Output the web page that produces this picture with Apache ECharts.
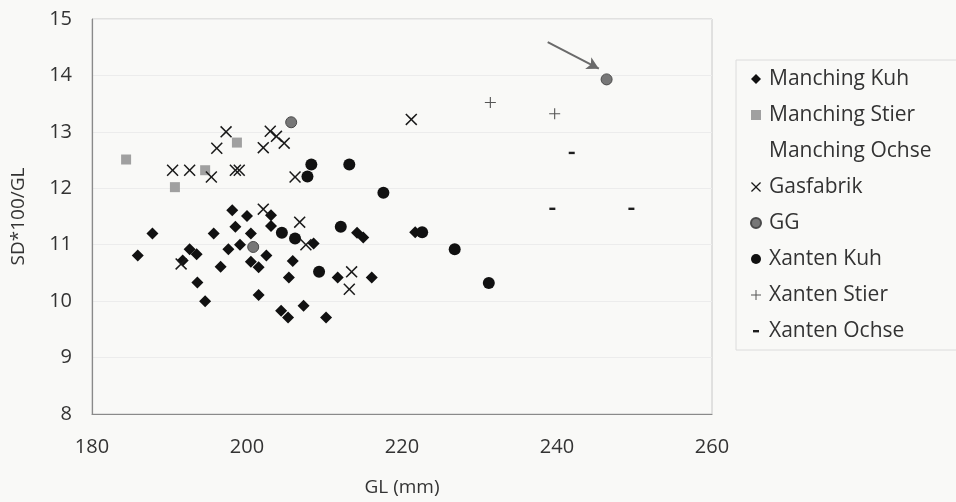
<!DOCTYPE html>
<html><head><meta charset="utf-8">
<script src="https://cdn.jsdelivr.net/npm/echarts@6/dist/echarts.min.js"></script>
<style>html,body{margin:0;padding:0;background:#f9f9f7;}#c{width:956px;height:502px;}</style>
</head><body><div id="c"></div>
<script>
const seriesNames = ['Manching Kuh','Manching Stier','Manching Ochse','Gasfabrik','GG','Xanten Kuh','Xanten Stier','Xanten Ochse'];
const xTicks = [180,200,220,240,260];
const yTicks = [8,9,10,11,12,13,14,15];
const manchingKuh = [[187.8,11.2],[185.9,10.81],[198.1,11.61],[200.0,11.51],[195.7,11.2],[198.5,11.32],[200.5,11.2],[203.1,11.52],[203.1,11.33],[199.1,11.0],[197.6,10.92],[202.5,10.81],[200.5,10.7],[201.5,10.6],[205.9,10.71],[196.6,10.61],[205.4,10.42],[211.7,10.42],[216.1,10.42],[214.2,11.21],[215.0,11.13],[193.6,10.33],[194.6,10.0],[201.5,10.11],[204.4,9.83],[205.3,9.71],[207.3,9.92],[210.2,9.71],[192.6,10.92],[193.5,10.83],[191.7,10.72],[208.6,11.02],[221.7,11.22]];
const manchingStier = [[184.4,12.51],[190.7,12.02],[194.6,12.32],[198.7,12.81]];
const manchingOchse = [];
const gasfabrik = [[190.4,12.32],[192.6,12.32],[195.4,12.2],[196.1,12.71],[197.3,13.0],[198.5,12.32],[199.0,12.32],[202.1,12.72],[203.0,13.01],[203.8,12.92],[204.8,12.8],[206.2,12.2],[202.1,11.63],[206.8,11.4],[207.6,11.0],[213.5,10.52],[213.2,10.21],[221.2,13.22],[191.5,10.66]];
const gg = [[205.7,13.17],[200.8,10.96],[246.4,13.93]];
const xantenKuh = [[208.3,12.42],[207.8,12.21],[213.2,12.42],[217.6,11.92],[212.1,11.32],[204.5,11.21],[206.2,11.11],[209.3,10.52],[222.6,11.22],[226.8,10.92],[231.2,10.32]];
const xantenStier = [[231.4,13.52],[239.7,13.32]];
const xantenOchse = [[241.9,12.63],[239.4,11.64],[249.6,11.64]];
const arrowFrom = [238.8,14.59];
const arrowTo = [245.4,14.12];

const X_PATH = 'path://M0,0.9 L0.9,0 L5,4.1 L9.1,0 L10,0.9 L5.9,5 L10,9.1 L9.1,10 L5,5.9 L0.9,10 L0,9.1 L4.1,5 Z';
const PLUS_PATH = 'path://M4.5,0 H5.5 V4.5 H10 V5.5 H5.5 V10 H4.5 V5.5 H0 V4.5 H4.5 Z';
const DASH_PATH = 'path://M0,0 M2,4 H8 V6.4 H2 Z M10,10';
const FONT = 'Open Sans';
const TXT = '#333333';

const chart = echarts.init(document.getElementById('c'));
chart.setOption({
  backgroundColor: '#f9f9f7',
  animation: false,
  grid: {left: 92, right: 244, top: 19, bottom: 87, show: true, borderColor: '#c8c8c8', borderWidth: 1},
  xAxis: {
    type: 'value', min: xTicks[0], max: xTicks[xTicks.length-1], interval: 20,
    name: 'GL (mm)', nameLocation: 'middle', nameGap: 64,
    nameTextStyle: {fontFamily: FONT, fontSize: 19, color: TXT},
    axisLine: {lineStyle: {color: '#8a8a8a', width: 1.2}},
    axisTick: {show: false},
    axisLabel: {fontFamily: FONT, fontSize: 20, color: TXT, margin: 23},
    splitLine: {show: false}
  },
  yAxis: {
    type: 'value', min: yTicks[0], max: yTicks[yTicks.length-1], interval: 1,
    name: 'SD*100/GL', nameLocation: 'middle', nameGap: 64,
    nameTextStyle: {fontFamily: FONT, fontSize: 19, color: TXT},
    axisLine: {show: true, lineStyle: {color: '#8a8a8a', width: 1.2}},
    axisTick: {show: false},
    axisLabel: {fontFamily: FONT, fontSize: 20, color: TXT, margin: 20},
    splitLine: {show: true, lineStyle: {color: '#ececec', width: 1}}
  },
  legend: {
    orient: 'vertical', left: 736, top: 60,
    padding: [8, 40, 8, 14],
    itemGap: 14, itemWidth: 10, itemHeight: 10,
    borderColor: '#dcdcdc', borderWidth: 1,
    textStyle: {fontFamily: FONT, fontSize: 21, color: TXT, lineHeight: 22, padding: [0, 0, 0, 3]},
    data: [
      {name: seriesNames[0]},
      {name: seriesNames[1]},
      {name: seriesNames[2], icon: 'none'},
      {name: seriesNames[3]},
      {name: seriesNames[4]},
      {name: seriesNames[5]},
      {name: seriesNames[6]},
      {name: seriesNames[7]}
    ]
  },
  series: [
    {name: seriesNames[0], type: 'scatter', data: manchingKuh, symbol: 'diamond', symbolSize: 12, itemStyle: {color: '#111', opacity: 1}},
    {name: seriesNames[1], type: 'scatter', data: manchingStier, symbol: 'rect', symbolSize: 10, itemStyle: {color: '#a0a0a0', opacity: 1}},
    {name: seriesNames[2], type: 'scatter', data: manchingOchse, symbol: 'none', itemStyle: {color: '#666', opacity: 1}},
    {name: seriesNames[3], type: 'scatter', data: gasfabrik, symbol: X_PATH, symbolSize: 12, itemStyle: {color: '#1a1a1a', opacity: 1}},
    {name: seriesNames[4], type: 'scatter', data: gg, symbol: 'circle', symbolSize: 11, itemStyle: {color: '#777', borderColor: '#4a4a4a', borderWidth: 1, opacity: 1},
      markLine: {silent: true, symbol: ['none','arrow'], symbolSize: [10, 12], label: {show: false},
        lineStyle: {color: '#6a6a6a', width: 2, type: 'solid', opacity: 1},
        data: [[{coord: arrowFrom}, {coord: arrowTo}]]}},
    {name: seriesNames[5], type: 'scatter', data: xantenKuh, symbol: 'circle', symbolSize: 12, itemStyle: {color: '#111', opacity: 1}},
    {name: seriesNames[6], type: 'scatter', data: xantenStier, symbol: PLUS_PATH, symbolSize: 11, itemStyle: {color: '#555', opacity: 1}},
    {name: seriesNames[7], type: 'scatter', data: xantenOchse, symbol: DASH_PATH, symbolSize: 10, itemStyle: {color: '#1e1e1e', opacity: 1}}
  ]
});
</script>
</body></html>
